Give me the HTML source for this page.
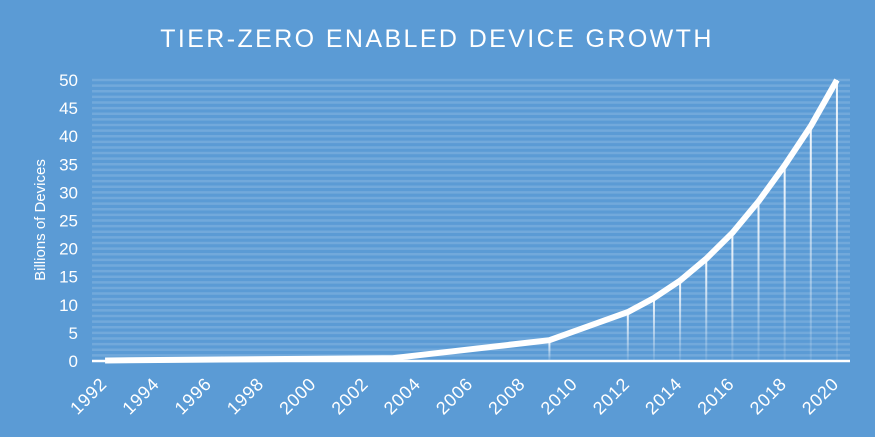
<!DOCTYPE html>
<html><head><meta charset="utf-8">
<style>
html,body{margin:0;padding:0;background:#5b9bd5;}
svg{display:block;font-family:"Liberation Sans","DejaVu Sans",sans-serif;}
</style></head>
<body>
<svg id="chart" width="875" height="437" viewBox="0 0 875 437" xmlns="http://www.w3.org/2000/svg">
<defs>
<linearGradient id="dropGrad" x1="0" y1="0" x2="0" y2="1">
<stop offset="0" stop-color="#fff" stop-opacity="0.95"/>
<stop offset="1" stop-color="#fff" stop-opacity="0.1"/>
</linearGradient>
</defs>
<rect x="0" y="0" width="875" height="437" fill="#5b9bd5"/>
<text x="437" y="47" text-anchor="middle" fill="#fff" font-size="25" letter-spacing="2.4">TIER-ZERO ENABLED DEVICE GROWTH</text>
<text transform="translate(45,220) rotate(-90)" text-anchor="middle" fill="#fff" font-size="15">Billions of Devices</text>
<g id="grid"></g>
<g id="drops"></g>
<g id="yticks"></g>
<g id="xticks"></g>
<g id="series"></g>
</svg>
<script>
const years = [1992,1993,1994,1995,1996,1997,1998,1999,2000,2001,2002,2003,2004,2005,2006,2007,2008,2009,2010,2011,2012,2013,2014,2015,2016,2017,2018,2019,2020];
const devices = [0.1,null,null,null,null,null,null,null,null,null,null,0.5,null,null,null,null,null,3.7,null,null,8.7,11.2,14.3,18.2,22.8,28.4,34.8,41.8,50];
const yTicks = [0,5,10,15,20,25,30,35,40,45,50];
const xLabels = [1992,1994,1996,1998,2000,2002,2004,2006,2008,2010,2012,2014,2016,2018,2020];

const NS='http://www.w3.org/2000/svg';
const plotL=92, plotR=850, plotT=80, plotB=361, yMax=50;
const band=(plotR-plotL)/years.length;
function xPos(i){return plotL+band*(i+0.5);}
function yPos(v){return plotB-(v/yMax)*(plotB-plotT);}
function mk(tag,attrs,parent){const e=document.createElementNS(NS,tag);for(const k in attrs)e.setAttribute(k,attrs[k]);parent.appendChild(e);return e;}

const grid=document.getElementById('grid');
for(let v=1; v<=yMax; v++){
  const l=mk('line',{x1:plotL,x2:plotR,y1:yPos(v),y2:yPos(v),stroke:'#fff','stroke-opacity':0.14,'stroke-width':2.5},grid);
  
  
}
const yt=document.getElementById('yticks');
yTicks.forEach(v=>{
  const t=mk('text',{x:78,y:yPos(v)+6,'text-anchor':'end',fill:'#fff','font-size':17},yt);
  t.textContent=v;
  
  
});
const xt=document.getElementById('xticks');
xLabels.forEach(y=>{
  const i=years.indexOf(y);
  const x=xPos(i)+3, yy=385;
  const t=mk('text',{x:x,y:yy,'text-anchor':'end',fill:'#fff','font-size':18,'letter-spacing':0.8,transform:`rotate(-45 ${x} ${yy})`},xt);
  t.textContent=y;
  
  
});
const drops=document.getElementById('drops');
const pts=[];
devices.forEach((v,i)=>{
  if(v===null) return;
  pts.push([xPos(i),yPos(v)]);
  if(v>2){
    const d=mk('rect',{x:xPos(i)-1,y:yPos(v),width:2,height:plotB-yPos(v),fill:'url(#dropGrad)'},drops);
    
    
  }
});
const ser=document.getElementById('series');
const axis=mk('line',{x1:plotL,x2:plotR,y1:plotB,y2:plotB,stroke:'#fff','stroke-width':2.5},ser);


const line=mk('polyline',{points:pts.map(p=>p.join(',')).join(' '),fill:'none',stroke:'#fff','stroke-width':6,'stroke-linejoin':'round'},ser);


</script>
</body></html>
